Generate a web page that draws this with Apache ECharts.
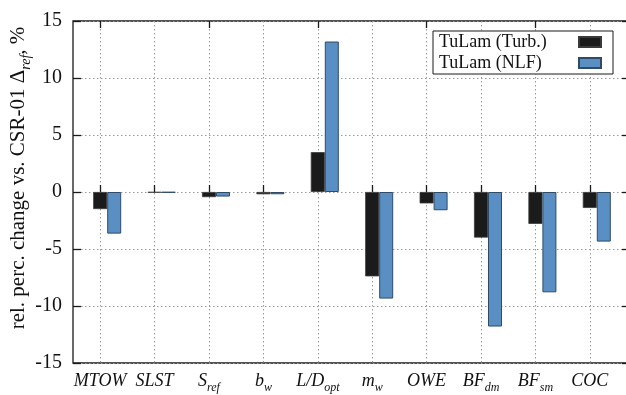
<!DOCTYPE html>
<html>
<head>
<meta charset="utf-8">
<script src="https://cdn.jsdelivr.net/npm/echarts@6/dist/echarts.min.js"></script>
<style>
  html, body { margin: 0; padding: 0; background: #ffffff; }
  #chart { width: 626px; height: 395px; }
</style>
</head>
<body>
<div id="chart"></div>
<script>
// Design parameters, in order along the horizontal axis
const categories = ['MTOW', 'SLST', 'S_ref', 'b_w', 'L/D_opt', 'm_w', 'OWE', 'BF_dm', 'BF_sm', 'COC'];
// Relative percentage change vs. CSR-01 (%)
const turbValues = [-1.5, -0.05, -0.45, -0.2, 3.5, -7.4, -1.0, -4.0, -2.8, -1.4];
const nlfValues = [-3.65, -0.05, -0.4, -0.2, 13.2, -9.35, -1.6, -11.8, -8.8, -4.35];
const seriesNames = ['TuLam (Turb.)', 'TuLam (NLF)'];
const yMin = -15, yMax = 15, yStep = 5;

const SERIF = "'Liberation Serif', 'DejaVu Serif', serif";
const gridColor = '#9a9a9a';

// Turn "X_sub" into a rich-text label with an italic subscript
function richName(name) {
  const i = name.indexOf('_');
  if (i < 0) return '{m|' + name + '}';
  return '{m|' + name.slice(0, i) + '}{s|' + name.slice(i + 1) + '}';
}

const chart = echarts.init(document.getElementById('chart'), null, { renderer: 'canvas' });

const option = {
  backgroundColor: '#ffffff',
  animation: false,
  grid: [
    // frame of the plot (its right side runs past the canvas)
    { left: 73, top: 21, width: 557, height: 342, outerBoundsMode: 'none', containLabel: false,
      show: true, borderColor: '#1a1a1a', borderWidth: 1.3, backgroundColor: 'transparent' },
    // area holding the ten category bands
    { left: 73, top: 21, width: 544, height: 342, outerBoundsMode: 'none', containLabel: false }
  ],
  legend: {
    data: seriesNames,
    orient: 'vertical',
    left: 433,
    top: 31,
    align: 'right',
    icon: 'rect',
    backgroundColor: '#ffffff',
    borderColor: '#1a1a1a',
    borderWidth: 1,
    padding: [2, 11, 2, 6],
    itemWidth: 22,
    itemHeight: 10,
    itemGap: 3,
    formatter: (name) => '{t|' + name + '}',
    textStyle: {
      fontFamily: SERIF, fontSize: 18, color: '#111',
      rich: { t: { fontFamily: SERIF, fontSize: 18, color: '#111', width: 135, align: 'left' } }
    }
  },
  xAxis: [
    { gridIndex: 0, type: 'value', min: 0, max: 1, show: false },
    {
      gridIndex: 1, type: 'category', position: 'bottom', data: categories,
      axisLine: { show: false },
      axisTick: { show: true, inside: true, alignWithLabel: true, length: 7, lineStyle: { color: '#1a1a1a', width: 1.3 } },
      splitLine: { show: true, alignWithLabel: true, lineStyle: { color: gridColor, type: [1.5, 2.5], width: 1 } },
      axisLabel: {
        margin: 9,
        interval: 0,
        formatter: richName,
        rich: {
          m: { fontFamily: SERIF, fontStyle: 'italic', fontSize: 18, color: '#111', verticalAlign: 'bottom', padding: [0, 0, 4, 0] },
          s: { fontFamily: SERIF, fontStyle: 'italic', fontSize: 12, color: '#111', verticalAlign: 'bottom' }
        }
      }
    },
    {
      gridIndex: 1, type: 'category', position: 'top', data: categories,
      axisLine: { show: false },
      axisTick: { show: true, inside: true, alignWithLabel: true, length: 7, lineStyle: { color: '#1a1a1a', width: 1.3 } },
      axisLabel: { show: false },
      splitLine: { show: false }
    }
  ],
  yAxis: [
    {
      gridIndex: 0, type: 'value', position: 'left', min: yMin, max: yMax, interval: yStep,
      axisLine: { show: false },
      axisTick: { show: true, inside: true, length: 8, lineStyle: { color: '#1a1a1a', width: 1.3 } },
      splitLine: { show: true, lineStyle: { color: gridColor, type: [1.5, 2.5], width: 1 } },
      axisLabel: { margin: 11, fontFamily: SERIF, fontSize: 20, color: '#111' },
      name: '{a|rel. perc. change vs. CSR-01 Δ}{s|ref}{a|, %}',
      nameLocation: 'middle',
      nameGap: 40,
      nameMoveOverlap: false,
      nameTextStyle: {
        padding: [0, 0, 0, 28],
        rich: {
          a: { fontFamily: SERIF, fontSize: 21, color: '#111', verticalAlign: 'bottom', padding: [0, 0, 4, 0] },
          s: { fontFamily: SERIF, fontStyle: 'italic', fontSize: 14, color: '#111', verticalAlign: 'bottom' }
        }
      }
    },
    {
      gridIndex: 0, type: 'value', position: 'right', min: yMin, max: yMax, interval: yStep,
      axisLine: { show: false },
      axisTick: { show: true, inside: true, length: 8, lineStyle: { color: '#1a1a1a', width: 1.3 } },
      splitLine: { show: false },
      axisLabel: { show: false }
    },
    { gridIndex: 1, type: 'value', min: yMin, max: yMax, interval: yStep, show: false }
  ],
  series: [
    {
      // empty slot on the left so the black bar sits on the category centre
      name: 'offset', type: 'bar', xAxisIndex: 1, yAxisIndex: 2,
      data: categories.map(() => '-'),
      barWidth: 14, barGap: '0%', silent: true,
      itemStyle: { color: 'transparent' }
    },
    {
      name: seriesNames[0], type: 'bar', xAxisIndex: 1, yAxisIndex: 2,
      data: turbValues, barWidth: 14, barGap: '0%',
      itemStyle: { color: '#1b1b1b', borderColor: '#3a3a3a', borderWidth: 0.8 }
    },
    {
      name: seriesNames[1], type: 'bar', xAxisIndex: 1, yAxisIndex: 2,
      data: nlfValues, barWidth: 14, barGap: '0%',
      itemStyle: { color: '#5a8fc4', borderColor: '#2f4b66', borderWidth: 1 }
    }
  ]
};

chart.setOption(option);
</script>
</body>
</html>
